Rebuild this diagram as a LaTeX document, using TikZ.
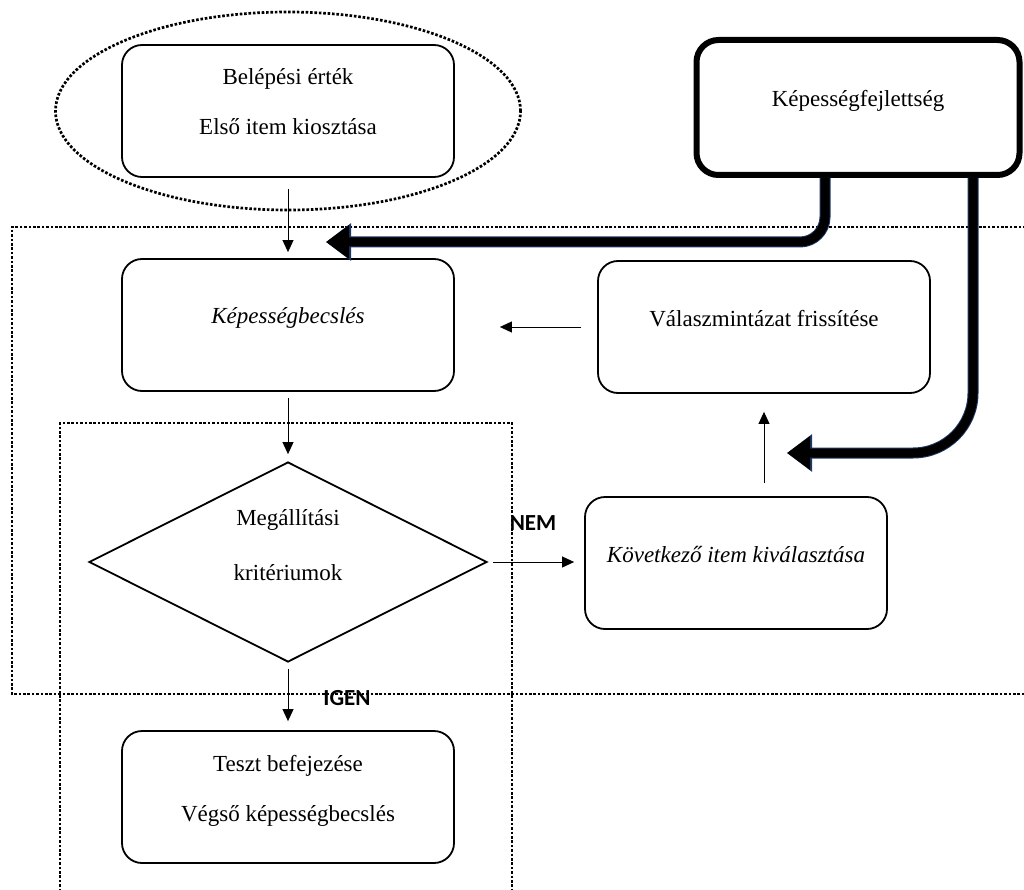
\documentclass[tikz,border=0pt]{standalone}
\usepackage{fontspec}
\setmainfont{Liberation Serif}
\newfontfamily\labelfont{Carlito}
\usetikzlibrary{arrows.meta,shapes.geometric}
\definecolor{edgenavy}{HTML}{1F3864}

\begin{document}
\begin{tikzpicture}[x=1pt,y=-1pt,
  txt/.style={font=\fontsize{23}{50}\selectfont},
  box/.style={draw, line width=1.8pt, rounded corners=20pt, inner sep=0pt,
    minimum width=332pt, minimum height=132pt, align=center, txt, text depth=18pt},
  bigbox/.style={box, line width=6pt, rounded corners=22pt},
  dots/.style={line width=2.7pt, dash pattern=on 2.6pt off 1.8pt},
  arr/.style={line width=0.9pt, -{Triangle[length=12pt,width=11pt]}},
  fatarr/.style={line width=9pt, -{Triangle[length=23pt,width=32pt]},
    preaction={draw=edgenavy, line width=11pt, -{Triangle[length=25pt,width=36pt]}}},
  lab/.style={font=\labelfont\bfseries\fontsize{23}{24}\selectfont, inner sep=0pt}
]
\useasboundingbox (0,0) rectangle (1024,890);

% dotted frames
\draw[dots] (1030,227) -- (12,227) -- (12,694) -- (1030,694);
\draw[dots] (60,900) -- (60,423) -- (512,423) -- (512,900);

% entry ellipse and boxes
\node[draw, dots, ellipse, minimum width=465pt, minimum height=198pt] (entry) at (288,111) {};
\node[box] (start) at (288,111) {Belépési érték\\Első item kiosztása};
\node[box] (est) at (288,325) {\itshape Képességbecslés};
\node[draw, line width=1.8pt, diamond, shape aspect=2, inner sep=0pt,
  minimum width=398pt, minimum height=200pt, align=center,
  font=\fontsize{23}{55}\selectfont, text depth=34pt] (stop) at (288,562) {Megállítási\\kritériumok};
\node[box, minimum width=302pt] (next) at (736,563) {\itshape Következő item kiválasztása};
\node[box] (upd) at (764,327) {Válaszmintázat frissítése};
\node[bigbox, minimum width=323pt, minimum height=135pt] (dev) at (858,107.5) {Képességfejlettség};
\node[box] (end) at (288,797) {Teszt befejezése\\Végső képességbecslés};

% labels
\node[lab] (nem) at (533,523) {NEM};
\node[lab] (igen) at (347,698) {IGEN};

% connectors
\draw[arr, shorten <=11pt, shorten >=6pt] (start.south) -- (est.north);
\draw[arr, shorten <=6pt, shorten >=7pt] (est.south) -- (stop.north);
\draw[arr, shorten <=5pt, shorten >=10pt] (stop.east) -- (stop.east -| next.west);
\draw[arr, shorten <=16pt, shorten >=45pt] (upd.west) -- (upd.west -| est.east);
\draw[arr, shorten <=13pt, shorten >=18pt] (next.north -| upd.south) -- (upd.south);
\draw[arr, shorten <=6pt, shorten >=9pt] (stop.south) -- (end.north);

% thick feedback arrows
\coordinate (tipA) at (326,242);
\coordinate (tipB) at (787,453);
\draw[fatarr, rounded corners=25pt] ([xshift=-33pt]dev.south) |- (tipA);
\draw[fatarr, rounded corners=60pt] ([xshift=115pt]dev.south) |- (tipB);
\end{tikzpicture}
\end{document}
